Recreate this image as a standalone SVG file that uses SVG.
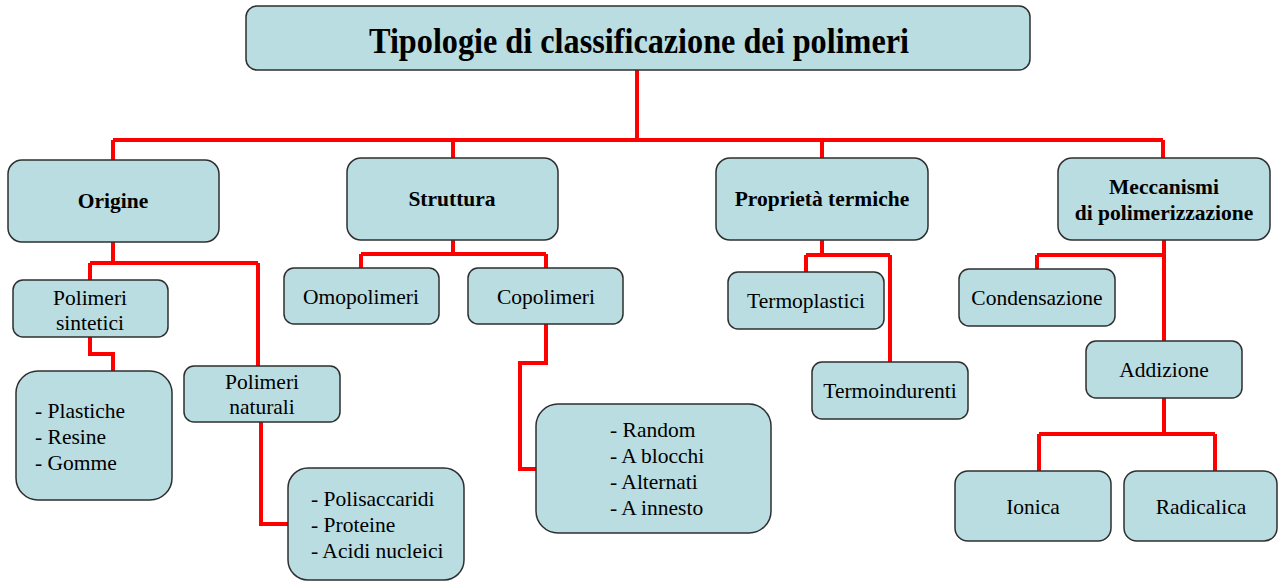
<svg xmlns="http://www.w3.org/2000/svg" width="1278" height="581" viewBox="0 0 1278 581">
<style>
.box{fill:#b9dde0;stroke:#2f2f2f;stroke-width:1.5}
.c{fill:none;stroke:#ff0000;stroke-width:4;stroke-linejoin:miter}
text{font-family:"Liberation Serif","Times New Roman",serif;fill:#000}
.t{font-size:36px;font-weight:bold;text-anchor:middle}
.h{font-size:21.5px;font-weight:bold;text-anchor:middle}
.n{font-size:21.5px;text-anchor:middle}
.l{font-size:21.5px}
</style>
<rect width="1278" height="581" fill="#fff"/>
<g id="connectors">
<path class="c" d="M637,70 V140 M113,140 H1163 M113,140 V160 M453,140 V158 M822,140 V158 M1163,140 V158"/>
<path class="c" d="M113,242 V263 M90,263 H258 M90,263 V280 M258,263 V366"/>
<path class="c" d="M90,337 V354 H113 V371"/>
<path class="c" d="M261,422 V524 H288"/>
<path class="c" d="M453,240 V254 M361,254 H546 M361,254 V268 M546,254 V268"/>
<path class="c" d="M546,324 V363 H520 V469 H536"/>
<path class="c" d="M822,240 V255 M806,255 H890 M806,255 V272 M890,255 V362"/>
<path class="c" d="M1164,240 V341 M1037,255 H1164 M1037,255 V269"/>
<path class="c" d="M1164,398 V434 M1039,434 H1215 M1039,434 V471 M1215,434 V471"/>
</g>
<g id="title"><rect class="box" x="246" y="6" width="784" height="64" rx="11"/><text class="t" x="639" y="53" textLength="540" lengthAdjust="spacingAndGlyphs">Tipologie di classificazione dei polimeri</text></g>
<g id="origine"><rect class="box" x="8" y="160" width="211" height="82" rx="14"/><text class="h" x="113" y="208">Origine</text></g>
<g id="struttura"><rect class="box" x="347" y="158" width="211" height="82" rx="14"/><text class="h" x="452" y="206">Struttura</text></g>
<g id="termiche"><rect class="box" x="716" y="158" width="212" height="82" rx="14"/><text class="h" x="822" y="206">Proprietà termiche</text></g>
<g id="meccanismi"><rect class="box" x="1058" y="158" width="212" height="82" rx="14"/><text class="h" x="1164" y="194">Meccanismi</text><text class="h" x="1164" y="220">di polimerizzazione</text></g>
<g id="sintetici"><rect class="box" x="13" y="280" width="155" height="57" rx="10"/><text class="n" x="90" y="305">Polimeri</text><text class="n" x="90" y="330">sintetici</text></g>
<g id="plastiche"><rect class="box" x="16" y="371" width="156" height="129" rx="22"/><text class="l" x="35" y="418">- Plastiche</text><text class="l" x="35" y="444">- Resine</text><text class="l" x="35" y="470">- Gomme</text></g>
<g id="naturali"><rect class="box" x="184" y="366" width="156" height="56" rx="10"/><text class="n" x="262" y="389">Polimeri</text><text class="n" x="262" y="414">naturali</text></g>
<g id="polisaccaridi"><rect class="box" x="288" y="468" width="176" height="112" rx="20"/><text class="l" x="311" y="506">- Polisaccaridi</text><text class="l" x="311" y="532">- Proteine</text><text class="l" x="311" y="558">- Acidi nucleici</text></g>
<g id="omopolimeri"><rect class="box" x="284" y="268" width="155" height="56" rx="10"/><text class="n" x="361" y="304">Omopolimeri</text></g>
<g id="copolimeri"><rect class="box" x="468" y="268" width="155" height="56" rx="10"/><text class="n" x="546" y="304">Copolimeri</text></g>
<g id="random"><rect class="box" x="536" y="404" width="235" height="129" rx="22"/><text class="l" x="610" y="437">- Random</text><text class="l" x="610" y="463">- A blocchi</text><text class="l" x="610" y="489">- Alternati</text><text class="l" x="610" y="515">- A innesto</text></g>
<g id="termoplastici"><rect class="box" x="728" y="272" width="156" height="57" rx="10"/><text class="n" x="806" y="308">Termoplastici</text></g>
<g id="termoindurenti"><rect class="box" x="812" y="362" width="156" height="57" rx="10"/><text class="n" x="890" y="398">Termoindurenti</text></g>
<g id="condensazione"><rect class="box" x="959" y="269" width="156" height="57" rx="10"/><text class="n" x="1037" y="305">Condensazione</text></g>
<g id="addizione"><rect class="box" x="1086" y="341" width="156" height="57" rx="10"/><text class="n" x="1164" y="377">Addizione</text></g>
<g id="ionica"><rect class="box" x="955" y="471" width="156" height="70" rx="13"/><text class="n" x="1033" y="514">Ionica</text></g>
<g id="radicalica"><rect class="box" x="1124" y="471" width="153" height="70" rx="13"/><text class="n" x="1201" y="514">Radicalica</text></g>
</svg>
